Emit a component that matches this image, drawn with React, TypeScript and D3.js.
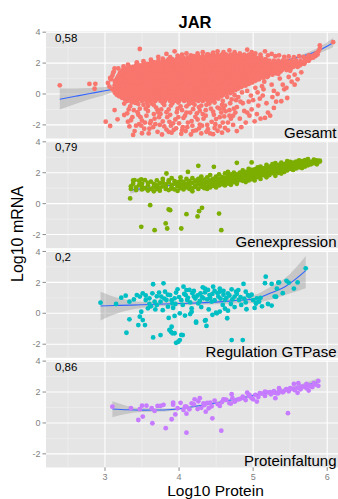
import React, { useEffect } from "react";
import * as d3 from "d3";

const W = 338;
const H = 499;

// Facet labels, correlation values and colours
const panelNames = ["Gesamt", "Genexpression", "Regulation GTPase", "Proteinfaltung"];
const corrLabels = ["0,58", "0,79", "0,2", "0,86"];
const colors = ["#F8766D", "#7CAE00", "#00BFC4", "#C77CFF"];

// Axis ticks
const yTicks = [-2, 0, 2, 4];
const yMinor = [-3, -1, 1, 3];
const xTicks = [3, 4, 5, 6];
const xMinor = [2.5, 3.5, 4.5, 5.5, 6.5];

// Gesamt, dense core: each row is [log10 mRNA, log10 protein...] in hundredths
const gesamtRows: number[][] = [
  [-45, 330, 337, 343, 350, 356, 362, 368, 375, 381, 388, 394, 400, 407, 413, 420, 426, 432, 439, 445],
  [-35, 327, 333, 339, 345, 351, 357, 363, 369, 375, 381, 387, 393, 399, 405, 411, 417, 423, 429, 435, 441, 447],
  [-25, 323, 329, 335, 341, 347, 353, 359, 365, 371, 377, 384, 390, 396, 402, 408, 414, 420, 426, 433, 439, 445, 451],
  [-15, 319, 325, 331, 337, 343, 349, 355, 361, 367, 373, 379, 385, 391, 397, 403, 409, 415, 421, 427, 433, 439, 445, 451, 457],
  [-5, 316, 322, 328, 334, 340, 346, 352, 358, 364, 370, 376, 382, 388, 394, 400, 406, 412, 418, 424, 430, 436, 442, 448, 454, 460],
  [5, 314, 320, 326, 332, 338, 344, 350, 356, 362, 368, 374, 380, 386, 392, 398, 404, 410, 416, 422, 428, 434, 440, 446, 452, 458, 464],
  [15, 313, 319, 325, 331, 337, 343, 349, 355, 361, 367, 373, 379, 385, 391, 397, 403, 409, 415, 421, 427, 433, 439, 445, 451, 457, 463, 469, 472],
  [25, 315, 321, 327, 333, 339, 345, 351, 357, 363, 369, 375, 381, 387, 393, 399, 405, 411, 417, 423, 429, 435, 441, 447, 453, 459, 465, 471, 476],
  [35, 312, 316, 322, 328, 334, 340, 346, 352, 358, 364, 370, 376, 382, 388, 394, 400, 406, 412, 418, 424, 430, 436, 442, 448, 454, 460, 466, 472, 478, 480],
  [45, 316, 322, 328, 334, 340, 346, 352, 358, 364, 370, 376, 382, 388, 394, 400, 406, 412, 418, 424, 430, 436, 442, 448, 454, 460, 466, 472, 478, 484],
  [55, 313, 319, 325, 331, 337, 343, 349, 355, 361, 367, 373, 379, 385, 391, 397, 403, 409, 415, 421, 427, 433, 439, 445, 451, 457, 463, 469, 475, 481, 487, 490],
  [65, 316, 322, 328, 334, 340, 346, 352, 358, 364, 370, 376, 382, 388, 394, 400, 406, 412, 418, 424, 430, 436, 442, 448, 454, 460, 466, 472, 478, 484, 490, 494],
  [75, 314, 317, 323, 329, 335, 341, 347, 353, 359, 365, 371, 377, 383, 389, 395, 401, 407, 413, 419, 425, 431, 437, 443, 449, 455, 461, 467, 473, 479, 485, 491, 497, 499],
  [85, 318, 323, 329, 335, 341, 347, 353, 359, 365, 371, 377, 383, 389, 395, 401, 407, 413, 419, 425, 431, 437, 443, 449, 455, 461, 467, 473, 479, 485, 491, 497, 503],
  [95, 316, 320, 326, 332, 338, 344, 350, 356, 362, 368, 374, 380, 386, 392, 398, 404, 410, 416, 422, 428, 434, 440, 446, 452, 458, 464, 470, 476, 482, 488, 494, 500, 506, 508],
  [105, 317, 323, 329, 335, 341, 347, 353, 359, 365, 371, 377, 383, 389, 395, 401, 407, 413, 419, 425, 431, 437, 443, 449, 455, 461, 467, 473, 479, 485, 491, 497, 503, 509, 514],
  [115, 318, 323, 329, 335, 341, 347, 353, 359, 365, 371, 377, 383, 389, 395, 401, 407, 413, 419, 425, 431, 437, 443, 449, 455, 461, 467, 473, 479, 485, 491, 497, 503, 509, 515, 520],
  [125, 322, 328, 334, 340, 346, 352, 358, 364, 370, 376, 382, 388, 394, 400, 406, 412, 418, 424, 430, 436, 442, 448, 454, 460, 466, 472, 478, 484, 490, 496, 502, 508, 514, 520, 526],
  [135, 320, 326, 332, 338, 344, 350, 356, 362, 368, 374, 380, 386, 392, 398, 404, 410, 416, 422, 428, 434, 440, 446, 452, 458, 464, 470, 476, 482, 488, 494, 500, 506, 512, 518, 524, 530, 532],
  [145, 322, 327, 333, 339, 345, 351, 357, 363, 369, 375, 381, 387, 393, 399, 405, 411, 417, 423, 429, 435, 441, 447, 453, 459, 465, 471, 477, 483, 489, 495, 501, 507, 513, 519, 525, 531, 537],
  [155, 324, 329, 335, 341, 347, 353, 359, 365, 371, 377, 383, 389, 395, 401, 407, 413, 419, 425, 431, 437, 443, 449, 455, 461, 467, 473, 479, 485, 491, 497, 503, 509, 515, 521, 527, 533, 539, 545],
  [165, 328, 335, 341, 347, 353, 359, 365, 371, 377, 383, 389, 395, 401, 407, 413, 419, 425, 431, 437, 443, 449, 455, 461, 467, 473, 479, 485, 491, 497, 503, 509, 515, 521, 527, 533, 539, 545, 551],
  [175, 333, 338, 344, 350, 356, 362, 368, 374, 380, 386, 392, 398, 404, 410, 416, 422, 428, 434, 440, 446, 452, 458, 464, 470, 476, 482, 488, 494, 500, 506, 512, 518, 524, 530, 536, 542, 548, 554, 560],
  [185, 342, 347, 353, 359, 365, 371, 377, 383, 389, 395, 401, 407, 413, 419, 425, 431, 437, 443, 449, 455, 461, 467, 473, 479, 485, 491, 497, 503, 509, 515, 521, 527, 533, 539, 545, 551, 557, 563],
  [195, 352, 357, 363, 369, 375, 381, 387, 393, 399, 405, 411, 417, 423, 429, 435, 441, 447, 453, 459, 465, 471, 477, 483, 489, 495, 501, 507, 513, 519, 525, 531, 537, 543, 549, 555, 561, 567, 569],
  [205, 362, 366, 372, 378, 384, 390, 396, 402, 408, 414, 420, 426, 432, 438, 444, 450, 456, 462, 468, 474, 480, 486, 492, 498, 504, 510, 516, 522, 528, 534, 540, 546, 552, 558, 564, 570],
  [215, 372, 378, 384, 390, 396, 402, 408, 414, 420, 426, 432, 438, 444, 450, 456, 462, 468, 474, 480, 486, 492, 498, 504, 510, 516, 522, 528, 534, 540, 546, 552, 558, 564, 570, 575],
  [225, 386, 391, 397, 403, 409, 415, 421, 427, 433, 439, 445, 451, 457, 463, 469, 475, 481, 487, 493, 499, 505, 511, 517, 571, 576],
  [235, 400, 406, 412, 418, 424, 430, 436, 442, 448, 454, 460, 466, 472, 478, 484, 490, 496, 502, 508, 511, 573, 578, 581],
  [245, 420, 426, 432, 438, 444, 450, 456, 462, 468, 474, 480, 486, 492, 498, 502, 579, 584],
  [255, 440, 446, 452, 458, 464, 470, 476, 482, 488, 494, 498, 583, 587],
];

// Gesamt, scattered points: x, y pairs in hundredths
const gesamtScatter: number[] = [
  239, 56, 279, 65, 287, 66, 286, 34, 304, 71, 307, 104, 308, 95, 313, 86, 310, 30, 311, 136, 313, 166, 306, 48,
  310, 118, 312, 145, 318, 165, 325, 178, 331, 190, 343, 205, 347, 291, 352, 212, 362, 222, 366, 205, 372, 240,
  378, 228, 383, 259, 388, 238, 394, 276, 398, 248, 404, 255, 410, 262, 416, 250, 425, 262, 432, 270, 438, 256,
  446, 268, 452, 276, 460, 270, 468, 282, 475, 270, 482, 262, 492, 287, 498, 270, 503, 262, 510, 255, 516, 276,
  520, 250, 525, 259, 530, 245, 535, 250, 542, 240, 548, 243, 555, 238, 562, 245, 568, 240, 575, 250, 580, 245,
  585, 262, 588, 275, 590, 293, 590, 315, 608, 335,
  326, -62, 334, -80, 341, -58, 347, -95, 352, -70, 358, -110, 363, -62, 369, -88, 375, -130, 380, -72, 386, -100,
  391, -60, 397, -118, 402, -80, 408, -140, 413, -66, 419, -98, 424, -125, 430, -75, 436, -105, 441, -62, 447, -135,
  452, -88, 458, -70, 463, -112, 469, -60, 474, -95,
  330, -125, 337, -150, 344, -118, 350, -172, 356, -140, 361, -190, 367, -160, 372, -120, 378, -178, 384, -150,
  389, -205, 395, -165, 400, -190, 406, -155, 411, -215, 417, -175, 422, -148, 428, -198, 433, -160, 439, -228,
  444, -180, 450, -162, 455, -210, 461, -145, 466, -185,
  333, -210, 340, -240, 346, -195, 353, -225, 359, -255, 365, -215, 371, -245, 377, -262, 383, -230, 390, -250,
  396, -222, 403, -258, 409, -240, 416, -262, 423, -235, 430, -255, 437, -245, 446, -260, 452, -238,
  301, -179, 307, -207, 313, -104, 317, -164, 326, -136, 331, -179, 338, -265, 350, -254,
  332, -100, 345, -135, 355, -95, 366, -130, 376, -100, 388, -135, 398, -95, 410, -120, 421, -70, 432, -130,
  443, -95, 457, -120, 468, -140, 478, -85,
  349, -205, 362, -175, 374, -200, 387, -180, 393, -232, 405, -215, 418, -205, 427, -222, 438, -200, 448, -220,
  459, -185, 470, -160, 476, -120,
  335, -170, 342, -205, 348, -150, 354, -185, 360, -225, 368, -195, 373, -150, 380, -210, 386, -245, 392, -190,
  399, -150, 404, -235, 412, -185, 419, -240, 425, -165, 431, -205, 436, -140, 442, -255, 449, -195, 455, -150,
  462, -220, 468, -105, 473, -140, 339, -105, 358, -78, 371, -105, 383, -118, 404, -105, 415, -120, 428, -108,
  446, -115, 460, -95,
  336, -55, 345, -65, 357, -55, 366, -72, 378, -58, 389, -75, 399, -55, 410, -80, 418, -58, 427, -85, 437, -70,
  448, -55, 455, -95, 462, -75, 453, -30, 459, -45, 465, -20, 471, -35, 483, -50, 469, 5, 475, -8,
  480, -20, 486, -60, 492, 20, 498, -100, 503, 40, 509, -30, 515, 80, 520, -120, 525, 60, 531, -50, 536, 100,
  542, 30, 546, -26, 538, -47, 523, -140, 516, -155, 502, -177, 495, -140, 488, -110, 482, -160, 477, -40,
  473, -200, 490, -185, 507, -75, 513, -10, 528, -90, 534, 130, 540, 60, 548, 110, 552, 80, 556, 125, 560, 95,
  565, 140, 485, 10, 497, -10, 504, 100, 512, 50, 519, 110, 528, 20, 500, -40, 466, -235, 478, -240, 484, -215,
  458, -250, 492, -120, 505, -130, 510, -160, 518, -60, 526, -20, 533, 0, 545, 40, 550, 150, 556, 60, 494, -50,
  506, 10, 514, 30,
];

// Genexpression, main band: each column is [log10 protein, log10 mRNA...] in hundredths
const genCols: number[][] = [
  [335, 95, 112], [338, 128, 150], [342, 105, 88], [346, 148, 120], [350, 92, 110, 130], [354, 152, 100],
  [358, 118, 85, 135], [362, 96, 142], [366, 110, 128, 80], [370, 95, 150, 118], [374, 132, 100, 84],
  [378, 112, 140, 160], [382, 95, 125, 108], [386, 138, 88, 150], [390, 105, 120, 98, 165], [394, 130, 92, 145],
  [398, 112, 138, 82], [402, 100, 125, 150, 170], [406, 115, 92, 140], [410, 130, 105, 160], [414, 95, 120, 145, 110],
  [418, 135, 100, 165, 80], [422, 118, 148, 108], [426, 125, 95, 160, 140], [430, 110, 135, 175, 150],
  [434, 128, 100, 155, 118], [438, 140, 112, 170, 95], [442, 125, 150, 105, 185], [446, 138, 160, 115, 130],
  [450, 150, 125, 175, 105, 140], [454, 135, 160, 190, 118], [458, 148, 172, 125, 158], [462, 140, 165, 195, 118, 152],
  [466, 155, 130, 178, 205], [470, 148, 168, 122, 190, 160], [474, 158, 140, 182, 200], [478, 165, 145, 190, 172, 128],
  [482, 152, 178, 200, 168], [486, 170, 148, 192, 215, 160], [490, 160, 182, 205, 140, 175], [494, 188, 165, 210, 150, 225],
  [498, 175, 195, 158, 218, 185], [502, 182, 200, 165, 222, 192, 150], [506, 190, 210, 172, 235, 200],
  [510, 198, 180, 220, 160, 208, 240], [514, 205, 185, 228, 195, 215], [518, 212, 192, 235, 170, 222, 250],
  [522, 200, 220, 240, 185, 230], [526, 215, 232, 198, 255, 222], [530, 225, 205, 245, 180, 235, 262],
  [534, 218, 238, 200, 250, 228], [538, 230, 248, 212, 265, 240, 195], [542, 235, 222, 255, 205, 245],
  [546, 242, 228, 262, 215, 250, 275], [550, 238, 255, 225, 270, 248], [554, 248, 232, 265, 218, 258],
  [558, 255, 240, 272, 228, 262], [562, 250, 268, 235, 280, 258], [566, 260, 245, 275, 230], [570, 265, 252, 282, 240],
  [574, 258, 272, 248, 288], [578, 270, 255, 262], [582, 275, 262, 285], [586, 268, 280, 255], [590, 278, 272],
];

// Genexpression, points off the band: x, y pairs in hundredths
const genScatter: number[] = [
  334, 34, 361, -10, 386, -38, 388, -42, 410, -68, 427, -49, 431, -27, 425, -83, 454, -64, 349, -150, 367, -172,
  382, -128, 384, -161, 403, -161, 457, -172, 426, 245, 447, 238, 478, 264, 498, 267, 383, 195, 412, 205,
  340, 152, 349, 157,
];

// Regulation GTPase: x, y pairs in hundredths
const regPoints: number[] = [
  294, 69, 315, 60, 322, 101, 328, 114, 333, 75, 339, 90, 333, -39, 329, -126, 345, -76, 347, -22, 349, 10,
  351, -44, 354, -76, 358, 32, 343, 118, 347, 108, 351, 129, 355, 86, 360, 97, 365, 188, 364, 129, 367, 75,
  370, 54, 373, 134, 376, 108, 379, 194, 381, 140, 383, 86, 385, 43, 388, 118, 391, 64, 394, 97, 396, 134,
  401, 0, 405, 54, 406, 172, 409, 118, 411, 86, 414, 151, 417, 32, 420, 108, 423, -54, 426, 64, 429, 129,
  432, 168, 433, 97, 436, -44, 439, 151, 441, 118, 444, 75, 446, 172, 450, 4, 453, 108, 455, 140, 459, 54,
  462, 86, 466, 129, 471, 155, 475, 108, 477, 140, 481, 86, 484, 54, 487, 190, 491, 26, 493, 118, 504, 64,
  505, 97, 517, 237, 525, 190, 529, 108, 534, 198, 548, 198, 571, 291,
  365, -156, 375, -141, 387, -108, 389, -119, 391, -129, 394, -17, 396, -191, 401, -173, 405, -141, 423, -61,
  471, -173, 486, -173, 455, 11, 394, -129, 399, -184, 403, -140, 390, -87, 465, -32, 466, 17, 435, -48, 437, -82,
  451, 0, 417, 10,
  400, 105, 403, 85, 407, 125, 412, 100, 415, 70, 418, 130, 422, 95, 425, 115, 428, 80, 431, 105, 435, 135,
  438, 90, 442, 100, 445, 125, 448, 85, 452, 130, 456, 95, 460, 120, 464, 100, 468, 115, 472, 90, 478, 125,
  483, 105, 488, 95, 495, 110, 500, 85, 508, 75, 510, 100, 512, 45, 502, 35, 498, 120, 370, 110, 375, 75,
  380, 95, 385, 120, 390, 85, 395, 60, 360, 60, 355, 115, 362, 45, 368, 25, 378, 20, 386, -30, 392, 35,
  408, -15, 415, -5, 430, 40, 440, 25, 462, 30, 470, 60, 475, 40, 490, 70, 520, 60, 525, 50, 532, 160,
  540, 130, 555, 160, 560, 200, 545, 210, 445, -10, 420, 145, 410, 150, 398, 155, 435, 160, 455, 160,
  460, 145, 448, 145, 490, 140, 480, 150, 516, 195, 535, 200, 531, 107, 504, 65,
];

// Proteinfaltung: x, y pairs in hundredths
const protPoints: number[] = [
  310, 105, 335, 95, 347, 89, 350, 112, 356, 112, 363, 95, 367, 78, 345, 19, 351, 41, 364, -2, 371, 110,
  375, 110, 379, 117, 382, -34, 392, 131, 390, 24, 406, 84, 408, 105, 410, -63, 417, 127, 421, 153, 428, 160,
  433, 127, 436, 73, 445, 30, 442, 131, 455, 110, 457, -50, 460, 153, 464, 149, 471, 186, 475, 138, 480, 153,
  487, 160, 492, 196, 495, 181, 505, 138, 500, 153, 509, 192, 516, 203, 523, 199, 529, 196, 535, 225, 541, 203,
  547, 63, 545, 218, 550, 225, 555, 252, 561, 257, 565, 235, 572, 252, 577, 239, 582, 257, 588, 272, 556, 220,
  534, 192,
  392, 118, 398, 95, 402, 130, 410, 105, 414, 88, 420, 120, 426, 140, 430, 98, 434, 115, 438, 130, 444, 108,
  448, 145, 452, 122, 458, 135, 462, 150, 468, 128, 472, 160, 476, 142, 482, 155, 486, 170, 490, 148, 494, 175,
  498, 160, 503, 182, 507, 168, 512, 190, 516, 175, 520, 198, 524, 185, 528, 205, 532, 192, 536, 210, 540, 198,
  544, 215, 548, 205, 552, 222, 556, 212, 560, 228, 564, 218, 568, 235, 572, 225, 576, 242, 580, 232, 584, 248,
  588, 240, 395, 55, 440, 95, 470, 125, 530, 160, 560, 195, 575, 210, 410, 60, 425, 90,
];

// Loess fits with confidence band: x, fitted y, lower, upper
const gesamtFitX = [2.39, 2.6, 2.8, 3.0, 3.2, 3.5, 4.0, 4.5, 5.0, 5.5, 5.7, 5.9, 6.08];
const gesamtFitY = [-0.34, -0.15, 0.03, 0.21, 0.38, 0.62, 1.0, 1.35, 1.75, 2.25, 2.5, 2.85, 3.32];
const gesamtFitLo = [-1.0, -0.65, -0.32, -0.06, 0.28, 0.57, 0.96, 1.31, 1.7, 2.18, 2.38, 2.65, 3.02];
const gesamtFitHi = [0.36, 0.35, 0.38, 0.45, 0.48, 0.67, 1.04, 1.39, 1.8, 2.32, 2.62, 3.05, 3.62];

const genFitX = [3.34, 3.6, 4.0, 4.5, 5.0, 5.5, 5.9];
const genFitY = [0.88, 1.02, 1.25, 1.6, 1.98, 2.38, 2.74];
const genFitLo = [0.66, 0.9, 1.19, 1.55, 1.93, 2.32, 2.58];
const genFitHi = [1.1, 1.14, 1.31, 1.65, 2.03, 2.44, 2.9];

const regFitX = [2.94, 3.2, 3.5, 4.0, 4.5, 4.8, 5.02, 5.23, 5.43, 5.71];
const regFitY = [0.47, 0.51, 0.55, 0.63, 0.72, 0.84, 0.93, 1.29, 1.72, 2.76];
const regFitLo = [-0.46, 0.05, 0.35, 0.5, 0.58, 0.65, 0.67, 0.88, 1.18, 1.62];
const regFitHi = [1.4, 0.97, 0.75, 0.76, 0.86, 1.03, 1.19, 1.7, 2.26, 3.71];

const protFitX = [3.1, 3.3, 3.5, 3.8, 4.1, 4.5, 5.0, 5.5, 5.88];
const protFitY = [0.9, 0.85, 0.83, 0.84, 0.98, 1.3, 1.78, 2.2, 2.67];
const protFitLo = [0.37, 0.6, 0.7, 0.74, 0.9, 1.22, 1.7, 2.09, 2.45];
const protFitHi = [1.4, 1.1, 0.96, 0.94, 1.06, 1.38, 1.86, 2.31, 2.89];

type Pt = [number, number];
const pairs = (flat: number[]): Pt[] => {
  const out: Pt[] = [];
  for (let i = 0; i + 1 < flat.length; i += 2) out.push([flat[i] / 100, flat[i + 1] / 100]);
  return out;
};
const fromRows = (rows: number[][]): Pt[] =>
  rows.flatMap(([yv, ...xs]) => xs.map((xv) => [xv / 100, yv / 100] as Pt));
const fromCols = (cols: number[][]): Pt[] =>
  cols.flatMap(([xv, ...ys]) => ys.map((yv) => [xv / 100, yv / 100] as Pt));

const panelPoints: Pt[][] = [
  [...fromRows(gesamtRows), ...pairs(gesamtScatter)],
  [...fromCols(genCols), ...pairs(genScatter)],
  pairs(regPoints),
  pairs(protPoints),
];
const panelFits = [
  { x: gesamtFitX, y: gesamtFitY, lo: gesamtFitLo, hi: gesamtFitHi },
  { x: genFitX, y: genFitY, lo: genFitLo, hi: genFitHi },
  { x: regFitX, y: regFitY, lo: regFitLo, hi: regFitHi },
  { x: protFitX, y: protFitY, lo: protFitLo, hi: protFitHi },
];

// Layout
const PANEL_LEFT = 46;
const PANEL_RIGHT = 385;
const PANEL_TOP = 31.4;
const PANEL_H = 107.1;
const PANEL_STEP = 109.65;
const POINT_R = 2.4;
const FONT = "'Liberation Sans', Arial, Helvetica, sans-serif";
const AXIS_GREY = "#7F7F7F";

export default function App() {
  useEffect(() => {
    document.body.style.margin = "0";
  }, []);

  const x = d3.scaleLinear().domain([2.204, 6.78]).range([PANEL_LEFT, PANEL_RIGHT]);

  return (
    <svg
      width={W}
      height={H}
      viewBox={`0 0 ${W} ${H}`}
      style={{ display: "block", position: "absolute", left: 0, top: 0 }}
      fontFamily={FONT}
    >
      <rect width={W} height={H} fill="#ffffff" />
      <text x={195} y={28.3} textAnchor="middle" fontWeight="bold" fontSize={16.5} fill="#000">
        JAR
      </text>

      {panelNames.map((name, i) => {
        const top = PANEL_TOP + i * PANEL_STEP;
        const bottom = top + PANEL_H;
        const y = d3.scaleLinear().domain([-2.88, 4.05]).range([bottom, top]);
        const fit = panelFits[i];
        const rows = fit.x.map((xv, k) => ({ x: xv, y: fit.y[k], lo: fit.lo[k], hi: fit.hi[k] }));
        const area = d3
          .area<{ x: number; y: number; lo: number; hi: number }>()
          .x((d) => x(d.x))
          .y0((d) => y(d.lo))
          .y1((d) => y(d.hi))
          .curve(d3.curveMonotoneX);
        const line = d3
          .line<{ x: number; y: number }>()
          .x((d) => x(d.x))
          .y((d) => y(d.y))
          .curve(d3.curveMonotoneX);
        const clipId = `panel-clip-${i}`;
        return (
          <g key={name}>
            <defs>
              <clipPath id={clipId}>
                <rect x={PANEL_LEFT} y={top} width={PANEL_RIGHT - PANEL_LEFT} height={PANEL_H} />
              </clipPath>
            </defs>
            <rect x={PANEL_LEFT} y={top} width={PANEL_RIGHT - PANEL_LEFT} height={PANEL_H} fill="#E5E5E5" />
            <g clipPath={`url(#${clipId})`}>
              {yMinor.map((t) => (
                <line key={`ym${t}`} x1={PANEL_LEFT} x2={PANEL_RIGHT} y1={y(t)} y2={y(t)} stroke="#F2F2F2" strokeWidth={0.6} />
              ))}
              {xMinor.map((t) => (
                <line key={`xm${t}`} x1={x(t)} x2={x(t)} y1={top} y2={bottom} stroke="#F2F2F2" strokeWidth={0.6} />
              ))}
              {yTicks.map((t) => (
                <line key={`yM${t}`} x1={PANEL_LEFT} x2={PANEL_RIGHT} y1={y(t)} y2={y(t)} stroke="#FFFFFF" strokeWidth={1.1} />
              ))}
              {xTicks.map((t) => (
                <line key={`xM${t}`} x1={x(t)} x2={x(t)} y1={top} y2={bottom} stroke="#FFFFFF" strokeWidth={1.1} />
              ))}
              <path d={area(rows) || ""} fill="#999999" fillOpacity={0.4} />
              <path d={line(rows) || ""} fill="none" stroke="#3366FF" strokeWidth={1.1} />
              {panelPoints[i].map((p, k) => (
                <circle key={k} cx={x(p[0])} cy={y(p[1])} r={POINT_R} fill={colors[i]} />
              ))}
            </g>
            <text x={55} y={top + 10.3} fontSize={11.5} fill="#000">
              {corrLabels[i]}
            </text>
            <text x={336.5} y={bottom - 1} fontSize={15} textAnchor="end" fill="#000">
              {name}
            </text>
            {yTicks.map((t) => (
              <g key={`yt${t}`}>
                <line x1={42.5} x2={PANEL_LEFT} y1={y(t)} y2={y(t)} stroke={AXIS_GREY} strokeWidth={0.9} />
                <text x={40.5} y={y(t)} dy="0.35em" textAnchor="end" fontSize={9} fill={AXIS_GREY}>
                  {t}
                </text>
              </g>
            ))}
            {i === panelNames.length - 1 &&
              xTicks.map((t) => (
                <g key={`xt${t}`}>
                  <line x1={x(t)} x2={x(t)} y1={bottom} y2={bottom + 3.5} stroke={AXIS_GREY} strokeWidth={0.9} />
                  <text x={x(t)} y={bottom + 12.3} textAnchor="middle" fontSize={9} fill={AXIS_GREY}>
                    {t}
                  </text>
                </g>
              ))}
          </g>
        );
      })}

      <text x={215.5} y={496} textAnchor="middle" fontSize={15.5} fill="#000">
        Log10 Protein
      </text>
      <text transform="translate(23.3,234) rotate(-90)" textAnchor="middle" fontSize={16} fill="#000">
        Log10 mRNA
      </text>
    </svg>
  );
}
